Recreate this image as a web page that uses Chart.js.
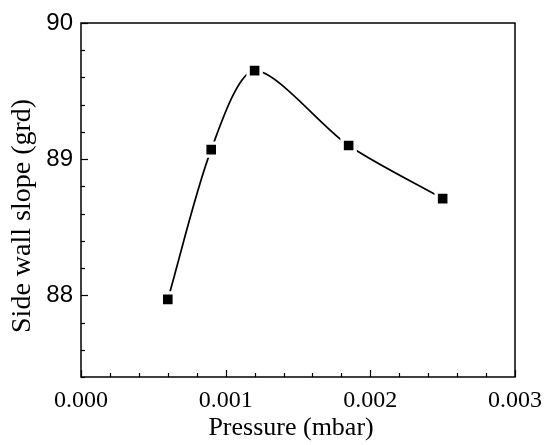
<!DOCTYPE html>
<html><head><meta charset="utf-8">
<script src="https://cdn.jsdelivr.net/npm/chart.js@4"></script>
<style>html,body{margin:0;padding:0;background:#fff}</style>
</head><body>
<canvas id="c" width="546" height="445" style="width:546px;height:445px;display:block"></canvas>
<script>
const pressure = [0.0006, 0.0009, 0.0012, 0.00185, 0.0025];
const slope = [87.97, 89.07, 89.65, 89.10, 88.71];
const xTickLabels = ['0.000', '0.001', '0.002', '0.003'];
const yTickLabels = ['88', '89', '90'];
const xTitle = 'Pressure (mbar)';
const yTitle = 'Side wall slope (grd)';

const pts = pressure.map((p, i) => ({x: p, y: slope[i]}));

function xLabel(v) {
  const s = (Math.round(v * 1e4) / 1e4).toFixed(3);
  return xTickLabels.includes(s) && Math.abs(v * 1000 - Math.round(v * 1000)) < 1e-6 ? s : '';
}
function yLabel(v) {
  const s = String(Math.round(v));
  return Math.abs(v - Math.round(v)) < 1e-6 && yTickLabels.includes(s) ? s : '';
}

const boxTicks = {
  id: 'boxTicks',
  afterDraw(chart) {
    const ctx = chart.ctx;
    const a = chart.chartArea;
    ctx.save();
    ctx.strokeStyle = '#000';
    ctx.lineWidth = 1.5;
    ctx.strokeRect(a.left, a.top, a.right - a.left, a.bottom - a.top);
    ctx.lineWidth = 1.2;
    const xs = chart.scales.x, ys = chart.scales.y;
    xs.ticks.forEach(t => {
      const px = Math.round(xs.getPixelForValue(t.value)) + 0.5;
      const len = xLabel(t.value) ? 7 : 4;
      ctx.beginPath(); ctx.moveTo(px, a.bottom); ctx.lineTo(px, a.bottom - len); ctx.stroke();
    });
    ys.ticks.forEach(t => {
      const py = Math.round(ys.getPixelForValue(t.value)) + 0.5;
      const len = yLabel(t.value) ? 7 : 4;
      ctx.beginPath(); ctx.moveTo(a.left, py); ctx.lineTo(a.left + len, py); ctx.stroke();
    });
    // axis titles
    ctx.fillStyle = '#000';
    ctx.textAlign = 'center';
    ctx.textBaseline = 'middle';
    ctx.font = '26px "Liberation Serif"';
    ctx.fillText(xTitle, a.left + (a.right - a.left) * 0.484, 428);
    ctx.save();
    ctx.translate(23, a.top + (a.bottom - a.top) * 0.545);
    ctx.rotate(-Math.PI / 2);
    ctx.font = '28px "Liberation Serif"';
    ctx.fillText(yTitle, 0, 0);
    ctx.restore();
    ctx.restore();
  }
};

new Chart(document.getElementById('c'), {
  type: 'scatter',
  data: {
    datasets: [{
      data: pts,
      showLine: true,
      borderColor: '#000',
      borderWidth: 1.7,
      tension: 0.28,
      pointStyle: 'rect',
      pointRadius: 9.2,
      pointHoverRadius: 9.2,
      pointBackgroundColor: '#000',
      pointBorderColor: '#fff',
      pointBorderWidth: 3.4,
      fill: false
    }]
  },
  options: {
    responsive: false,
    animation: false,
    devicePixelRatio: 1,
    layout: {padding: {top: 23, right: 31, left: 0, bottom: 0}},
    plugins: {legend: {display: false}, tooltip: {enabled: false}},
    scales: {
      x: {
        type: 'linear', min: 0, max: 0.003,
        grid: {display: false, drawTicks: false},
        border: {display: false},
        ticks: {
          stepSize: 0.0002, autoSkip: false, maxRotation: 0, padding: 9,
          color: '#000', font: {family: 'Liberation Serif', size: 24},
          callback: v => xLabel(v)
        },
        title: {display: false},
        afterFit: s => { s.height = 68; s.paddingLeft = 0; s.paddingRight = 0; }
      },
      y: {
        type: 'linear', min: 87.4, max: 90,
        grid: {display: false, drawTicks: false},
        border: {display: false},
        ticks: {
          stepSize: 0.2, autoSkip: false, padding: 8,
          color: '#000', font: {family: 'Liberation Sans', size: 24},
          callback: v => yLabel(v)
        },
        title: {display: false},
        afterFit: s => { s.width = 81; s.paddingTop = 0; s.paddingBottom = 0; }
      }
    }
  },
  plugins: [boxTicks]
});
</script>
</body></html>
